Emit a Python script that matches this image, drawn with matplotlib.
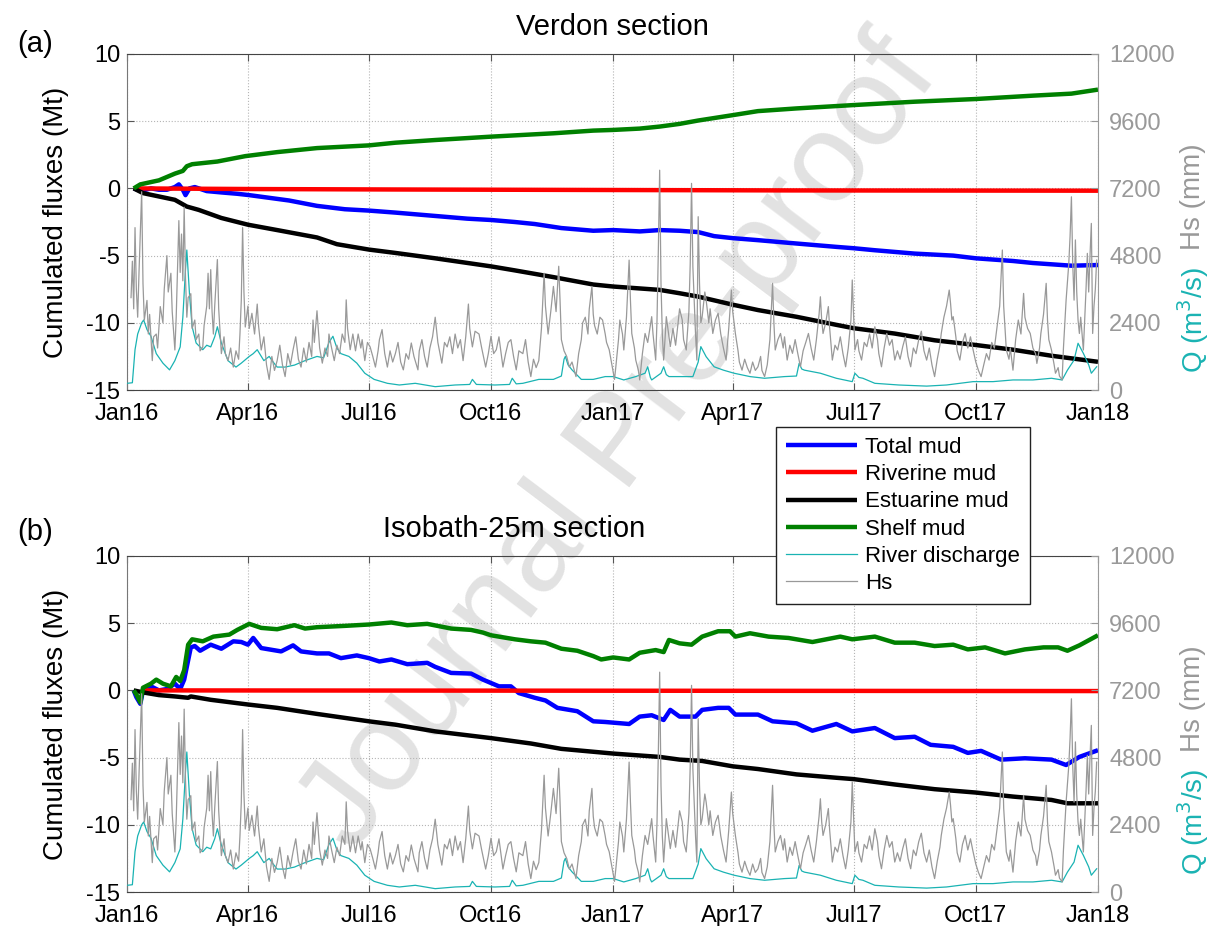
import numpy as np
import pandas as pd
import matplotlib
matplotlib.use("Agg")
import matplotlib.pyplot as plt
import matplotlib.dates as mdates

plt.rcParams["font.family"] = ["Liberation Sans", "DejaVu Sans"]
plt.rcParams["axes.unicode_minus"] = False

START = pd.Timestamp("2016-01-01")

# Significant wave height (mm), (day since 1 Jan 2016, value)
wave_height = [
    (3, 3300), (4, 4600), (5, 2900), (6, 5800), (7, 3600), (8, 2600), (9, 4200), (11, 7080),
    (12, 3800), (13, 2500), (15, 3200), (16, 2000), (17, 2700), (19, 1050), (20, 1900), (22, 2000),
    (23, 1500), (25, 2980), (27, 2400), (28, 3600), (30, 4800), (31, 3500), (33, 4170), (34, 2800),
    (36, 1430), (37, 2600), (39, 6050), (40, 4200), (41, 5570), (42, 3900), (43, 6530), (44, 4000),
    (45, 2600), (46, 3300), (48, 3440), (49, 2200), (51, 2500), (52, 1800), (54, 2000), (55, 1400),
    (57, 1540), (58, 2300), (60, 3000), (61, 4170), (62, 2900), (63, 4300), (64, 2800), (65, 2000),
    (66, 3000), (68, 4660), (69, 2900), (71, 1300), (73, 1900), (74, 1300), (76, 1050), (78, 1500),
    (80, 820), (82, 1400), (84, 1100), (85, 2000), (86, 3200), (87, 5800), (88, 3500), (89, 2250),
    (91, 3000), (92, 2200), (94, 2740), (96, 2000), (98, 3070), (99, 2300), (101, 1430), (103, 1900),
    (105, 900), (107, 380), (109, 1200), (111, 700), (113, 1050), (115, 1600), (117, 900), (119, 480),
    (121, 1300), (123, 900), (125, 1440), (127, 1900), (129, 1100), (131, 820), (133, 1500), (135, 1000),
    (137, 1700), (139, 1200), (140, 2500), (141, 1700), (143, 2830), (145, 1500), (147, 960), (149, 1500),
    (151, 1200), (152, 2000), (154, 1500), (156, 1050), (158, 1600), (160, 1300), (162, 2000), (164, 1700),
    (165, 3220), (166, 2200), (168, 1440), (170, 2000), (172, 1400), (174, 2000), (176, 1500), (177, 1800),
    (179, 1050), (181, 1700), (183, 1540), (185, 1200), (187, 820), (189, 1400), (190, 1800), (192, 2160),
    (194, 1300), (196, 820), (198, 1400), (200, 1000), (202, 1300), (204, 1700), (206, 1000), (208, 720),
    (210, 1300), (212, 1100), (214, 1680), (216, 1200), (219, 720), (220, 1400), (222, 1800), (224, 1200),
    (226, 820), (228, 1500), (230, 1900), (232, 2600), (234, 1700), (237, 960), (239, 1700), (241, 1540),
    (243, 1900), (245, 1300), (247, 2000), (249, 1500), (251, 1800), (253, 1050), (255, 1900), (257, 3070),
    (258, 2200), (260, 1540), (262, 2100), (265, 2000), (267, 1500), (270, 820), (272, 1300), (274, 1920),
    (276, 1300), (278, 1440), (280, 1900), (283, 820), (285, 1300), (287, 1700), (289, 1800), (291, 1200),
    (293, 720), (295, 1400), (298, 1300), (300, 1800), (302, 1000), (304, 480), (306, 1100), (308, 800),
    (310, 1050), (312, 2200), (314, 4170), (315, 3000), (317, 2000), (319, 2800), (321, 3700), (323, 2800),
    (325, 4420), (326, 3200), (327, 1800), (329, 1400), (331, 1200), (333, 820), (335, 1000), (338, 480),
    (340, 1300), (342, 1800), (343, 2400), (345, 2600), (347, 2000), (348, 2900), (350, 3700), (351, 2700),
    (352, 2300), (354, 2000), (356, 2600), (358, 2500), (360, 2000), (361, 1700), (363, 1440), (365, 900),
    (367, 380), (368, 830), (370, 1800), (371, 2500), (373, 2000), (374, 1430), (376, 2600), (378, 4640),
    (379, 3200), (380, 2020), (382, 1500), (383, 1070), (385, 700), (386, 360), (388, 1300), (390, 2020),
    (392, 1700), (394, 2300), (395, 2620), (396, 2000), (398, 1070), (399, 2500), (400, 5000), (401, 7850),
    (402, 3800), (403, 2000), (404, 1070), (405, 1800), (406, 2620), (408, 1900), (409, 1550), (411, 2200),
    (413, 1600), (414, 2020), (416, 2900), (418, 2500), (419, 1800), (421, 1430), (423, 2800), (424, 4500),
    (425, 7380), (426, 4400), (427, 3210), (428, 2000), (429, 1070), (430, 6190), (431, 3800), (432, 2400),
    (433, 2620), (435, 3500), (436, 3210), (438, 2400), (439, 2900), (441, 2020), (443, 2500), (445, 2740),
    (447, 2000), (449, 1500), (451, 1070), (453, 2200), (455, 3570), (456, 2800), (458, 2020), (460, 1400),
    (461, 1000), (463, 710), (465, 1100), (467, 800), (469, 600), (471, 1000), (473, 700), (475, 830),
    (477, 1200), (478, 700), (480, 480), (482, 900), (484, 1800), (486, 3810), (487, 2400), (488, 1430),
    (490, 1800), (492, 2020), (494, 1500), (495, 1900), (497, 1070), (499, 1600), (501, 1310), (503, 1800),
    (505, 1300), (507, 830), (509, 1400), (511, 1700), (513, 2020), (515, 1500), (517, 1070), (519, 1800),
    (521, 2700), (522, 3330), (523, 2500), (524, 2020), (526, 2400), (528, 2980), (529, 2200), (531, 1070),
    (533, 1600), (535, 1430), (537, 1900), (539, 1300), (541, 830), (543, 1500), (545, 2500), (546, 3930),
    (547, 2700), (548, 1430), (550, 1800), (551, 1400), (553, 1070), (555, 1700), (557, 1550), (559, 2000),
    (561, 1500), (563, 2260), (565, 1800), (566, 1300), (568, 830), (570, 1500), (572, 2020), (574, 1600),
    (576, 1800), (578, 1070), (580, 1400), (582, 1100), (584, 1550), (586, 1900), (588, 1200), (590, 830),
    (592, 1500), (594, 1300), (596, 1790), (598, 2100), (600, 1400), (602, 1070), (604, 1500), (606, 900),
    (608, 480), (610, 1100), (612, 1600), (613, 2020), (615, 2600), (617, 3000), (619, 3570), (620, 3100),
    (621, 2500), (622, 2620), (624, 1900), (625, 1400), (627, 1070), (629, 1700), (631, 2020), (633, 1500),
    (635, 1900), (637, 1430), (639, 1000), (641, 700), (643, 480), (645, 900), (647, 1300), (649, 1070),
    (651, 1700), (653, 1500), (655, 2260), (657, 3000), (659, 5000), (660, 3000), (662, 1430), (664, 1100),
    (665, 1500), (667, 710), (669, 1800), (671, 2500), (673, 2000), (675, 3450), (676, 2600), (678, 2200),
    (680, 2020), (682, 1500), (684, 1300), (685, 950), (687, 1500), (688, 2020), (690, 2700), (692, 3810),
    (693, 2500), (694, 1800), (696, 1430), (698, 900), (699, 600), (701, 800), (702, 500), (704, 360),
    (705, 1500), (707, 3210), (709, 4500), (710, 5500), (711, 6900), (712, 4500), (713, 3210), (714, 5360),
    (715, 3500), (716, 2500), (717, 2020), (718, 2600), (720, 1430), (721, 2500), (722, 3600), (723, 4880),
    (724, 3500), (725, 4800), (726, 5950), (727, 2020), (728, 3000), (729, 3600), (730, 4640),
]

# Gironde river discharge (m3/s)
river_discharge = [
    (0, 240), (4, 260), (6, 1440), (8, 2000), (11, 2400), (12.5, 2500), (15, 2160), (18, 1920),
    (22, 1300), (27, 960), (32, 720), (36, 1050), (40, 1540), (42, 2600), (44, 4300), (45, 5000),
    (47, 3440), (49, 2260), (52, 1680), (57, 1440), (60, 1600), (63, 1540), (66, 1900), (68, 2260),
    (71, 1680), (76, 1050), (82, 820), (86, 960), (92, 1200), (95, 1300), (98, 1440), (103, 1050),
    (107, 1200), (110, 1000), (113, 820), (119, 820), (126, 890), (134, 1050), (143, 1200), (148, 1150),
    (152, 1700), (155, 1920), (158, 1500), (161, 1300), (167, 1200), (173, 960), (179, 600), (186, 380),
    (196, 240), (205, 180), (217, 240), (232, 120), (247, 180), (258, 200), (260, 380), (263, 200),
    (277, 180), (288, 200), (290, 420), (293, 220), (298, 240), (310, 380), (321, 380), (327, 500),
    (329, 1100), (330, 1200), (332, 900), (335, 720), (342, 380), (351, 380), (360, 480), (366, 480),
    (374, 360), (383, 480), (390, 600), (392, 830), (394, 450), (395, 360), (402, 600), (404, 830),
    (406, 550), (408, 480), (415, 480), (426, 480), (430, 1000), (432, 1550), (436, 1190), (442, 830),
    (449, 710), (457, 600), (469, 480), (480, 420), (495, 480), (504, 500), (506, 950), (508, 750),
    (510, 710), (522, 600), (534, 420), (546, 300), (548, 600), (551, 450), (554, 420), (563, 240),
    (581, 180), (602, 140), (617, 180), (637, 300), (652, 300), (667, 360), (682, 360), (696, 420),
    (704, 360), (708, 710), (713, 1070), (716, 1670), (720, 1310), (724, 900), (726, 600), (730, 830),
]

# Verdon section, cumulated fluxes (Mt)
verdon_total = [
    (5, 0.0), (8, -0.1), (12, -0.15), (18, 0.0), (24, -0.1), (30, -0.1), (36, 0.1), (39, 0.3),
    (42, -0.1), (44, -0.5), (47, 0.0), (51, 0.1), (60, -0.2), (71, -0.3), (83, -0.4), (92, -0.5),
    (107, -0.7), (122, -0.9), (143, -1.3), (164, -1.55), (182, -1.65), (202, -1.8), (226, -2.0),
    (256, -2.25), (274, -2.35), (292, -2.5), (307, -2.65), (327, -2.95), (351, -3.15), (366, -3.1),
    (386, -3.2), (401, -3.1), (416, -3.15), (430, -3.25), (442, -3.55), (456, -3.7), (475, -3.85),
    (504, -4.1), (534, -4.35), (547, -4.45), (563, -4.6), (593, -4.85), (622, -5.0), (639, -5.2),
    (667, -5.4), (682, -5.55), (711, -5.75), (731, -5.7),
]
verdon_riverine = [(5, 0.0), (100, -0.05), (200, -0.08), (366, -0.12), (500, -0.15), (731, -0.17)]
verdon_estuarine = [
    (5, 0.0), (12, -0.35), (24, -0.6), (36, -0.85), (45, -1.35), (54, -1.6), (71, -2.2), (91, -2.7),
    (113, -3.1), (143, -3.65), (158, -4.15), (182, -4.55), (202, -4.8), (232, -5.2), (274, -5.8),
    (292, -6.1), (321, -6.6), (351, -7.15), (366, -7.3), (401, -7.55), (416, -7.8), (430, -8.05),
    (456, -8.65), (475, -9.05), (504, -9.55), (534, -10.15), (547, -10.4), (578, -10.8), (608, -11.3),
    (639, -11.65), (667, -12.0), (696, -12.45), (731, -12.9),
]
verdon_shelf = [
    (5, 0.0), (10, 0.3), (24, 0.6), (36, 1.1), (42, 1.3), (45, 1.65), (49, 1.8), (68, 2.0), (89, 2.4),
    (113, 2.7), (143, 3.0), (182, 3.2), (202, 3.4), (232, 3.6), (274, 3.85), (321, 4.1), (351, 4.3),
    (366, 4.35), (386, 4.45), (401, 4.6), (416, 4.8), (430, 5.05), (456, 5.45), (475, 5.75), (504, 5.95),
    (547, 6.2), (593, 6.45), (639, 6.65), (682, 6.9), (711, 7.05), (731, 7.35),
]

# Isobath-25m section, cumulated fluxes (Mt)
isobath_total = [
    (5, 0.0), (7, -0.5), (10, -1.0), (12, 0.0), (18, 0.3), (24, 0.0), (30, 0.1), (36, 0.5), (40, 0.1),
    (43, 0.8), (48, 3.2), (51, 3.3), (55, 2.95), (63, 3.4), (71, 3.1), (80, 3.65), (86, 3.6), (91, 3.4),
    (95, 3.9), (101, 3.15), (110, 3.0), (116, 2.9), (125, 3.35), (131, 2.9), (143, 2.75), (152, 2.75),
    (161, 2.4), (173, 2.6), (182, 2.4), (190, 2.15), (199, 2.3), (211, 1.95), (226, 2.05), (232, 1.75),
    (244, 1.3), (259, 1.25), (268, 0.8), (280, 0.3), (289, 0.3), (295, -0.2), (307, -0.55), (315, -0.75),
    (324, -1.3), (339, -1.55), (351, -2.3), (360, -2.35), (366, -2.4), (378, -2.5), (386, -1.95),
    (395, -1.85), (404, -2.2), (409, -1.45), (416, -1.95), (428, -1.95), (433, -1.45), (445, -1.3),
    (453, -1.3), (458, -1.8), (475, -1.8), (486, -2.3), (504, -2.45), (516, -3.0), (534, -2.5),
    (546, -3.05), (563, -2.8), (578, -3.55), (593, -3.45), (605, -4.05), (622, -4.2), (633, -4.65),
    (643, -4.5), (658, -5.15), (676, -5.05), (696, -5.15), (707, -5.55), (717, -4.95), (731, -4.45),
]
isobath_riverine = [(12, 0.0), (300, -0.02), (731, -0.05)]
isobath_estuarine = [
    (5, 0.0), (12, -0.15), (24, -0.35), (36, -0.45), (46, -0.55), (48, -0.45), (63, -0.7), (91, -1.05),
    (113, -1.3), (143, -1.75), (182, -2.3), (202, -2.55), (232, -3.05), (274, -3.55), (304, -3.95),
    (327, -4.35), (366, -4.7), (401, -4.95), (416, -5.15), (433, -5.25), (456, -5.65), (475, -5.85),
    (504, -6.25), (534, -6.5), (547, -6.6), (578, -7.0), (608, -7.35), (639, -7.6), (667, -7.9),
    (696, -8.15), (708, -8.4), (731, -8.4),
]
isobath_shelf = [
    (5, 0.0), (7, -0.3), (10, -0.9), (12, 0.2), (18, 0.5), (22, 0.8), (27, 0.5), (33, 0.3), (37, 1.0),
    (40, 0.7), (43, 1.5), (46, 3.4), (49, 3.8), (57, 3.65), (65, 4.0), (77, 4.15), (83, 4.5), (92, 4.95),
    (101, 4.65), (113, 4.55), (126, 4.85), (134, 4.6), (143, 4.7), (164, 4.8), (182, 4.9), (199, 5.05),
    (211, 4.85), (226, 4.95), (244, 4.6), (259, 4.5), (268, 4.3), (274, 4.1), (292, 3.8), (304, 3.65),
    (315, 3.55), (327, 3.1), (339, 2.95), (351, 2.55), (357, 2.3), (366, 2.45), (378, 2.3), (386, 2.8),
    (398, 3.0), (404, 2.85), (408, 3.75), (416, 3.5), (425, 3.4), (433, 4.0), (445, 4.4), (454, 4.4),
    (458, 4.0), (469, 4.25), (483, 4.0), (498, 3.9), (516, 3.6), (537, 4.0), (546, 3.8), (563, 4.0),
    (578, 3.55), (593, 3.55), (608, 3.3), (622, 3.4), (633, 3.05), (646, 3.2), (661, 2.75), (676, 3.05),
    (690, 3.2), (701, 3.2), (708, 2.95), (717, 3.35), (731, 4.1),
]

MUD_COLORS = {"Total mud": "#0000ff", "Riverine mud": "#ff0000",
              "Estuarine mud": "#000000", "Shelf mud": "#008000"}
Q_COLOR = "#1ab3b3"
HS_COLOR = "#999999"


def to_dates(days):
    return START + pd.to_timedelta(np.asarray(days, dtype=float), unit="D")


def draw_panel(ax, mud, title, title_x, letter, letter_y):
    """Cumulated mud fluxes on the left axis, Q and Hs on the right axis."""
    ax.set_facecolor("none")
    for name, pts in mud.items():
        d, v = zip(*pts)
        ax.plot(to_dates(d), v, color=MUD_COLORS[name], lw=3.2, label=name,
                solid_joinstyle="round", solid_capstyle="butt")

    ax2 = ax.twinx()
    d, v = zip(*river_discharge)
    ax2.plot(to_dates(d), v, color=Q_COLOR, lw=0.9, label="River discharge")
    d, v = zip(*wave_height)
    ax2.plot(to_dates(d), v, color=HS_COLOR, lw=0.9, label="Hs")

    ax.set_xlim(pd.Timestamp("2016-01-01"), pd.Timestamp("2018-01-01"))
    ax.set_ylim(-15, 10)
    ax2.set_ylim(0, 12000)
    ax.set_yticks([-15, -10, -5, 0, 5, 10])
    ax2.set_yticks([0, 2400, 4800, 7200, 9600, 12000])
    ax.xaxis.set_major_locator(mdates.MonthLocator(bymonth=[1, 4, 7, 10]))
    ax.xaxis.set_major_formatter(mdates.DateFormatter("%b%y"))

    ax.grid(True, linestyle=":", color="#b5b5b5", linewidth=0.8)
    ax.tick_params(axis="both", direction="in", length=5, labelsize=17, top=True, right=False,
                   color="#555555")
    ax.tick_params(axis="x", pad=9)
    ax.tick_params(axis="y", pad=5)
    ax2.tick_params(axis="y", direction="in", length=5, labelsize=17, colors=HS_COLOR, pad=8)

    for side in ["top", "bottom"]:
        ax.spines[side].set_color("#444444")
    ax.spines["left"].set_color("#777777")
    ax.spines["right"].set_visible(False)
    for side in ["top", "bottom", "left"]:
        ax2.spines[side].set_visible(False)
    ax2.spines["right"].set_color("#9a9a9a")

    ax.set_ylabel("Cumulated fluxes (Mt)", fontsize=20, labelpad=12)
    ax.text(1.098, 0.575, "Hs (mm)", transform=ax.transAxes, rotation=90,
            ha="center", va="center", fontsize=20, color=HS_COLOR)
    ax.text(1.098, 0.21, "Q (m$^3$/s)", transform=ax.transAxes, rotation=90,
            ha="center", va="center", fontsize=20, color=Q_COLOR)
    ax.set_title(title, fontsize=21, pad=14, x=title_x)
    ax.text(-0.113, letter_y, letter, transform=ax.transAxes, fontsize=21, ha="left", va="center")
    return ax2


fig = plt.figure(figsize=(12.17, 9.26), dpi=100)
ax_a = fig.add_axes([0.1044, 0.5788, 0.7978, 0.3629])
ax_b = fig.add_axes([0.1044, 0.0367, 0.7978, 0.3629])

ax2_a = draw_panel(ax_a, {"Total mud": verdon_total, "Riverine mud": verdon_riverine,
                          "Estuarine mud": verdon_estuarine, "Shelf mud": verdon_shelf},
                   "Verdon section", 0.5, "(a)", 1.03)
draw_panel(ax_b, {"Total mud": isobath_total, "Riverine mud": isobath_riverine,
                  "Estuarine mud": isobath_estuarine, "Shelf mud": isobath_shelf},
           "Isobath-25m section", 0.399, "(b)", 1.07)

handles = ax_a.get_lines() + ax2_a.get_lines()
leg = fig.legend(handles, [h.get_label() for h in handles], loc="upper left",
                 bbox_to_anchor=(776 / 1217, 1 - 427 / 926), borderaxespad=0,
                 fontsize=16, handlelength=3.2, handletextpad=0.35, labelspacing=0.28,
                 borderpad=0.45, fancybox=False, framealpha=1, edgecolor="#222222")
leg.get_frame().set_linewidth(1.0)

# diagonal watermark behind the axes
fig.text(0.51, 0.52, "Journal Pre-proof", rotation=53, fontsize=91, color="#e2e2e2",
         ha="center", va="center", zorder=-5)

fig.savefig("out.png", dpi=100)
